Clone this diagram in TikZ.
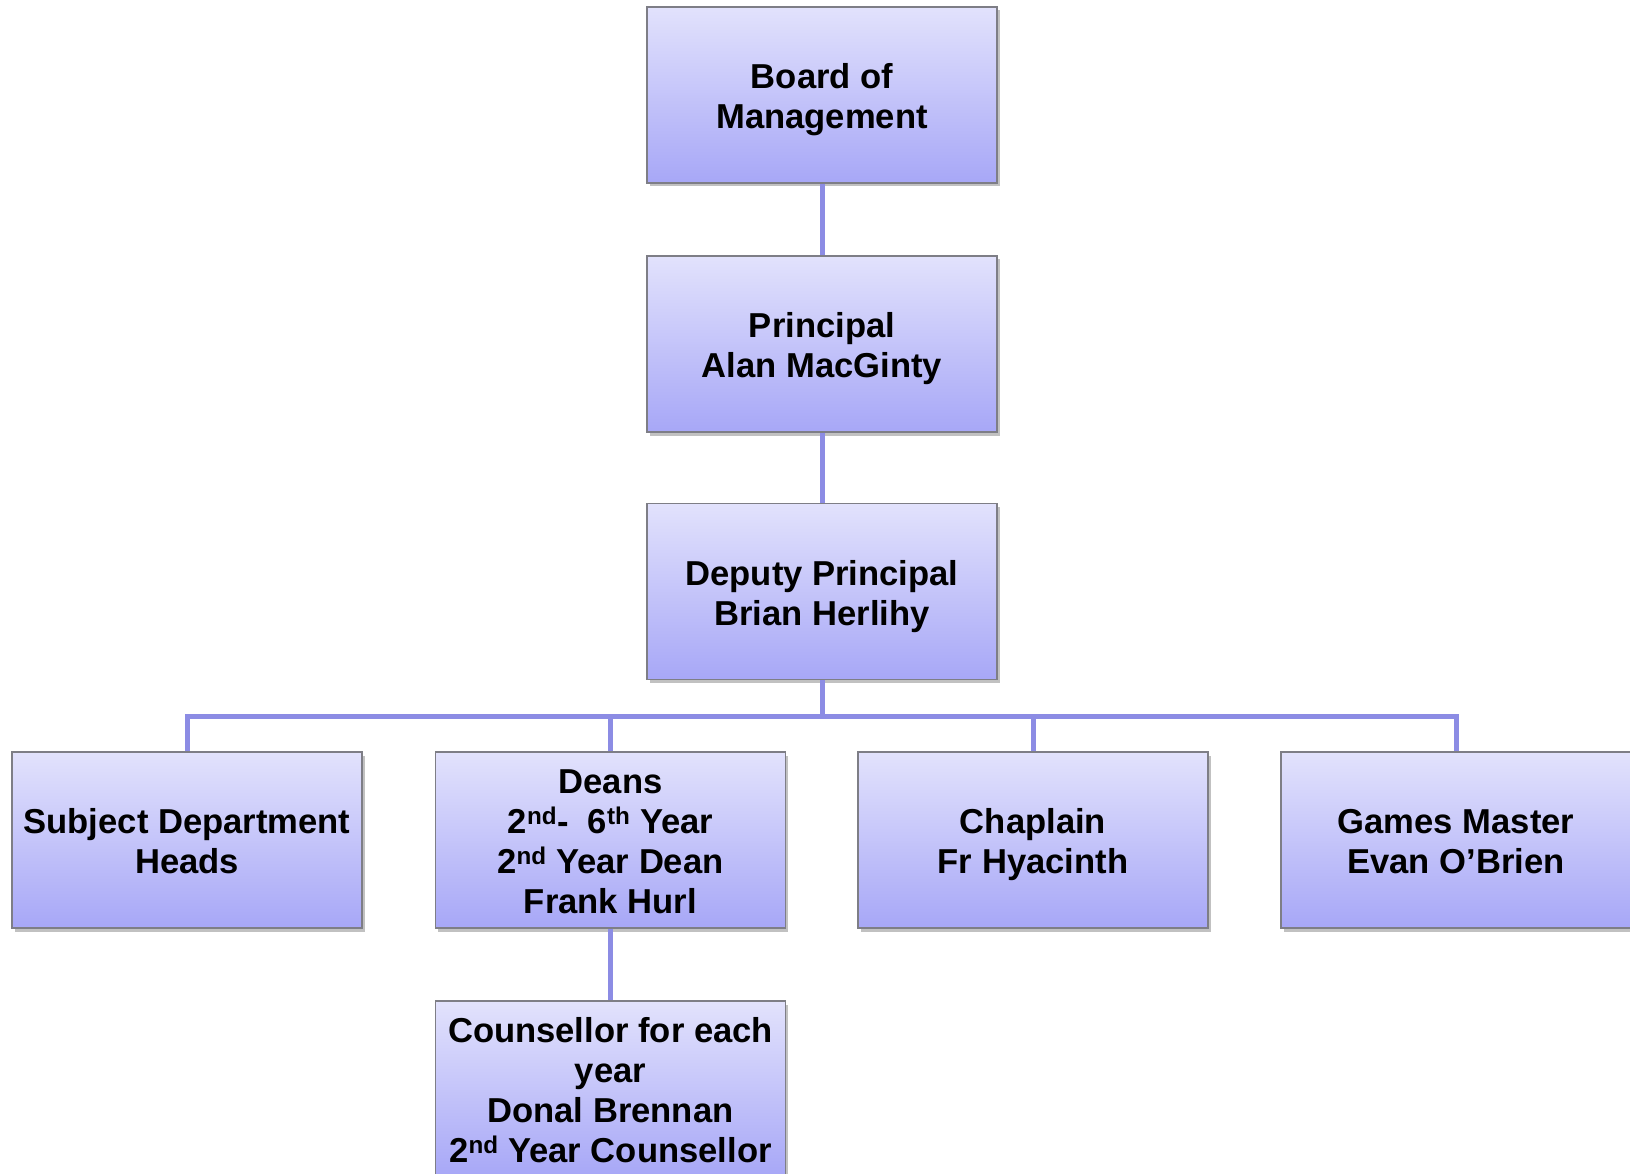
\documentclass[tikz,border=0pt]{standalone}
\usepackage{fontspec}
\setmainfont{Liberation Sans}
\usetikzlibrary{shadows}
\definecolor{boxtop}{HTML}{E2E2FC}
\definecolor{boxbot}{HTML}{A7A7F7}
\definecolor{boxline}{HTML}{7E7E86}
\definecolor{connc}{HTML}{8C8CE4}
\newcommand\topstrut{\rule{0pt}{35pt}}
\newcommand\botstrut{\rule[-8pt]{0pt}{8pt}}
\tikzset{
  orgbox/.style={draw=boxline, line width=1.3pt, top color=boxtop, bottom color=boxbot,
    minimum width=350pt, minimum height=176pt, inner sep=0pt, align=center,
    font=\fontsize{34.6}{40}\selectfont\bfseries,
    drop shadow={shadow xshift=2.5pt, shadow yshift=-3.5pt, opacity=0.35, fill=black!70}},
  conn/.style={draw=connc, line width=5pt}
}
\begin{document}
\begin{tikzpicture}[x=1pt,y=1pt]
\useasboundingbox (0,0) rectangle (1630,-1174);
\clip (0,0) rectangle (1630,-1174);
\coordinate (bus) at (822,-716);
\node[orgbox] (board) at (822,-95) {\topstrut Board of\\Management\botstrut};
\node[orgbox] (prin) at (822,-344) {\topstrut Principal\\Alan MacGinty\botstrut};
\node[orgbox] (dep) at (822,-591.5) {\topstrut Deputy Principal\\Brian Herlihy\botstrut};
\node[orgbox] (sdh) at (187,-840) {\topstrut Subject Department\\Heads\botstrut};
\node[orgbox] (deans) at (610.5,-840) {\topstrut Deans\\2\textsuperscript{nd}-\ \ 6\textsuperscript{th} Year\\2\textsuperscript{nd} Year Dean\\Frank Hurl\botstrut};
\node[orgbox] (chap) at (1033,-840) {\topstrut Chaplain\\Fr Hyacinth\botstrut};
\node[orgbox] (games) at (1456,-840) {\topstrut Games Master\\Evan O’Brien\botstrut};
\node[orgbox] (couns) at (610.5,-1089) {\topstrut Counsellor for each\\year\\Donal Brennan\\2\textsuperscript{nd} Year Counsellor\botstrut};
\draw[conn] (board.south) -- (prin.north);
\draw[conn] (prin.south) -- (dep.north);
\draw[conn] (dep.south) -- (bus);
\draw[conn, line join=miter] (sdh.north) |- (bus) -| (games.north);
\draw[conn] (deans.north) -- (deans.north |- bus);
\draw[conn] (chap.north) -- (chap.north |- bus);
\draw[conn] (deans.south) -- (couns.north);
\end{tikzpicture}
\end{document}
